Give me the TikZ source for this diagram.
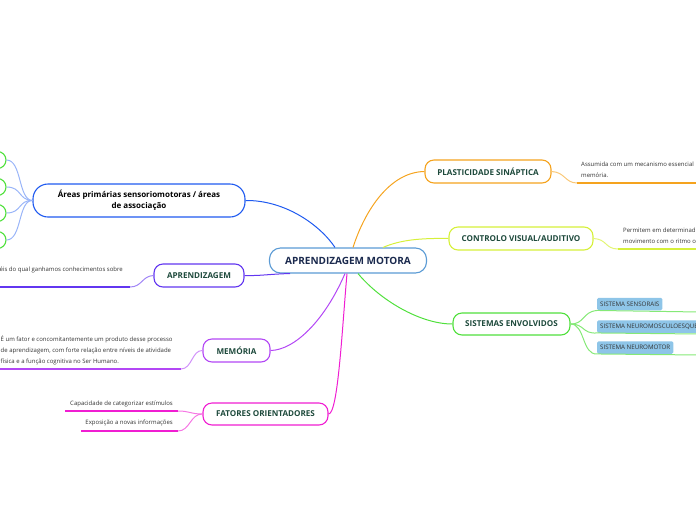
\documentclass[tikz,border=0pt]{standalone}
\usepackage{fontspec}
\setmainfont{Open Sans}
\definecolor{ctrblue}{HTML}{5B9BD5}
\definecolor{navy}{HTML}{1B2A4E}
\definecolor{txtgreen}{HTML}{1E4A3C}
\definecolor{txtgray}{HTML}{333333}
\definecolor{areablue}{HTML}{1F5AF0}
\definecolor{plastorange}{HTML}{F5A31E}
\definecolor{ctrlyellow}{HTML}{D6F03A}
\definecolor{sistgreen}{HTML}{50E03C}
\definecolor{aprpurple}{HTML}{6236F0}
\definecolor{memviolet}{HTML}{B347F5}
\definecolor{fatmagenta}{HTML}{F01ED2}
\definecolor{boxblue}{HTML}{8EC5E8}
\begin{document}
\begin{tikzpicture}[x=1pt,y=-1pt,
	topic/.style={draw,rounded corners=9pt,line width=1.1pt,fill=white,minimum height=23pt,inner sep=0pt,font=\fontsize{8.1}{9}\selectfont\bfseries,text=txtgreen},
	leaf/.style={inner sep=0pt,font=\fontsize{6}{11}\selectfont,text=txtgray,align=left},
	sbox/.style={fill=boxblue,rounded corners=1.5pt,inner sep=0pt,inner xsep=3pt,minimum height=12.5pt,font=\fontsize{6.2}{6.5}\selectfont,text=txtgray,anchor=west},
	link/.style={line width=1pt},
	under/.style={line width=1.6pt}]
	\useasboundingbox (0,0) rectangle (696,520);
	\clip (0,0) rectangle (696,520);
	% main topics
	\node[topic,draw=ctrblue,text=navy,minimum width=157pt,minimum height=25pt,rounded corners=11pt,font=\fontsize{10}{11}\selectfont\bfseries] (motor) at (348,260.5) {APRENDIZAGEM MOTORA};
	\node[topic,draw=plastorange,minimum width=126pt] (plast) at (488,171.5) {PLASTICIDADE SINÁPTICA};
	\node[topic,draw=ctrlyellow,minimum width=144pt] (ctrl) at (521,238.5) {CONTROLO VISUAL/AUDITIVO};
	\node[topic,draw=sistgreen,minimum width=117pt,minimum height=22pt] (sist) at (511.5,324) {SISTEMAS ENVOLVIDOS};
	\node[topic,draw=areablue,text=black,minimum width=212pt,minimum height=33pt,rounded corners=15pt,align=center,font=\fontsize{8}{11}\selectfont\bfseries] (areas) at (139,200.5) {Áreas primárias sensoriomotoras / áreas\\de associação};
	\node[topic,draw=aprpurple,minimum width=90pt] (aprend) at (199,275.5) {APRENDIZAGEM};
	\node[topic,draw=memviolet,minimum width=67pt] (mem) at (236.5,350.5) {MEMÓRIA};
	\node[topic,draw=fatmagenta,minimum width=125pt,minimum height=22pt] (fat) at (265.5,414) {FATORES ORIENTADORES};
	% branches from the centre
	\draw[link,areablue] ([xshift=-13pt]motor.north) .. controls (320,225) and (285,200) .. (areas.east);
	\draw[link,plastorange] ([xshift=5pt]motor.north) .. controls (365,210) and (390,172) .. (plast.west);
	\draw[link,ctrlyellow] ([xshift=35pt]motor.north) .. controls (400,240) and (420,238) .. (ctrl.west);
	\draw[link,sistgreen] ([xshift=10pt]motor.south) .. controls (380,300) and (420,324) .. (sist.west);
	\draw[link,aprpurple] ([xshift=-58pt]motor.south) .. controls (270,274) and (260,276) .. (aprend.east);
	\draw[link,memviolet] ([xshift=-3pt]motor.south) .. controls (325,320) and (295,350) .. (mem.east);
	\draw[link,fatmagenta] ([xshift=-1pt]motor.south) .. controls (342,330) and (338,414) .. (fat.east);
	% plasticidade
	\node[leaf,anchor=north west] (plastleaf) at (581,162) {Assumida com um mecanismo essencial\\memória.};
	\coordinate (plastA) at (577,183);
	\coordinate (plastB) at (700,183);
	\draw[link,plastorange!60] (plast.east) .. controls (565,172) and (565,183) .. (plastA);
	\draw[under,plastorange] (plastA) -- (plastB);
	% controlo
	\node[leaf,anchor=north west] (ctrlleaf) at (623,228) {Permitem em determinad\\movimento com o ritmo o};
	\coordinate (ctrlA) at (618,249);
	\coordinate (ctrlB) at (700,249);
	\draw[link,ctrlyellow!70] (ctrl.east) .. controls (607,239) and (605,249) .. (ctrlA);
	\draw[under,ctrlyellow] (ctrlA) -- (ctrlB);
	% sistemas
	\node[sbox] (sens) at (597,304) {SISTEMA SENSORAIS};
	\node[sbox] (neuromus) at (597,326.5) {SISTEMA NEUROMOSCULOESQUE};
	\node[sbox] (neuromot) at (597,347.5) {SISTEMA NEUROMOTOR};
	\draw[link,sistgreen!70] (sist.east) .. controls (585,324) and (582,312) .. (sens.south west) -- (700,312);
	\draw[link,sistgreen!70] (sist.east) .. controls (585,324) and (582,334) .. (neuromus.south west) -- (700,334);
	\draw[link,sistgreen!70] (sist.east) .. controls (585,324) and (582,355) .. (neuromot.south west) -- (700,355);
	% areas
	\foreach \n/\y in {1/160,2/187,3/213,4/240}{
		\node[circle,draw=sistgreen,line width=1.1pt,minimum size=17pt,inner sep=0pt] (circ\n) at (-2.5,\y) {};
		\draw[link,areablue!45] (areas.west) .. controls (18,200) and (22,\y) .. (circ\n.east);
	}
	% aprendizagem
	\node[leaf,anchor=west] (aprleaf) at (-0.5,270) {éis do qual ganhamos conhecimentos sobre};
	\coordinate (aprA) at (130,287);
	\coordinate (aprB) at (-5,287);
	\draw[link,aprpurple!60] (aprend.west) .. controls (142,276) and (142,287) .. (aprA);
	\draw[under,aprpurple] (aprA) -- (aprB);
	% memoria
	\node[leaf,anchor=north west] (memleaf) at (0.5,335.5) {É um fator e concomitantemente um produto desse processo\\de aprendizagem, com forte relação entre níveis de atividade\\física e a função cognitiva no Ser Humano.};
	\coordinate (memA) at (181,369);
	\coordinate (memB) at (-5,369);
	\draw[link,memviolet!60] (mem.west) .. controls (192,350) and (192,369) .. (memA);
	\draw[under,memviolet] (memA) -- (memB);
	% fatores
	\node[leaf,anchor=south east] (cap) at (173,407) {Capacidade de categorizar estímulos};
	\node[leaf,anchor=south east] (expo) at (173,426.5) {Exposição a novas informações};
	\coordinate (capA) at (178,411);
	\coordinate (capB) at (65,411);
	\coordinate (expoA) at (178,431);
	\coordinate (expoB) at (81,431);
	\draw[link,fatmagenta!60] (fat.west) .. controls (190,414) and (190,411) .. (capA);
	\draw[link,fatmagenta!60] (fat.west) .. controls (190,414) and (190,431) .. (expoA);
	\draw[under,fatmagenta] (capA) -- (capB);
	\draw[under,fatmagenta] (expoA) -- (expoB);
\end{tikzpicture}
\end{document}
